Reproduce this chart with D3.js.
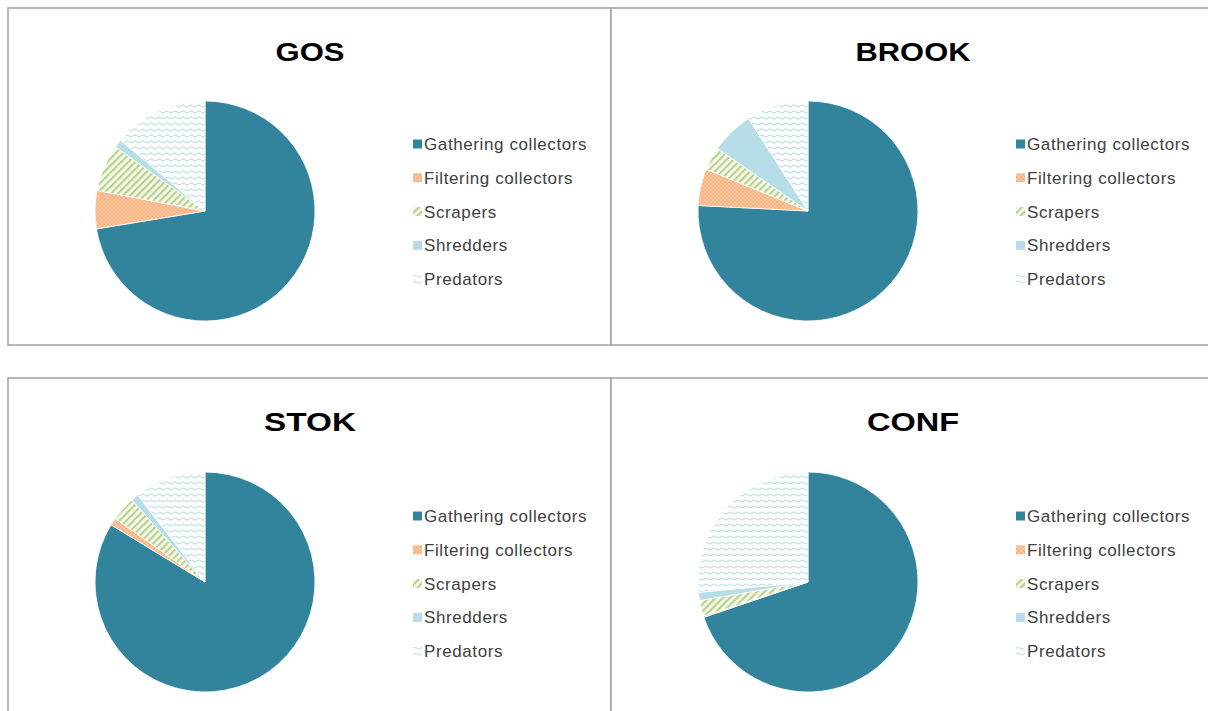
<!DOCTYPE html>
<html>
<head>
<meta charset="UTF-8">
<script src="https://cdn.jsdelivr.net/npm/d3@7"></script>
<style>
  body { margin: 0; background: #fff; }
  .title { font-family: "Liberation Sans", Arial, sans-serif; font-weight: bold; fill: #000; }
  .legend text { font-family: "Liberation Sans", Arial, sans-serif; font-size: 17px; fill: #404040; letter-spacing: 0.6px; }
</style>
</head>
<body>
<div id="chart"></div>
<script>
// feeding groups (legend order, also slice order clockwise from 12 o'clock)
var groups = ["Gathering collectors", "Filtering collectors", "Scrapers", "Shredders", "Predators"];
var sites = ["GOS", "BROOK", "STOK", "CONF"];

// percentages
var gos   = [72.4, 5.6, 6.9, 1.2, 13.9];
var brook = [75.8, 5.4, 3.4, 6.3, 9.1];
var stok  = [83.7, 1.1, 3.6, 1.1, 10.5];
var conf  = [69.8, 0.2, 2.3, 1.2, 26.5];
var values = [gos, brook, stok, conf];

var width = 1208, height = 711;

var svg = d3.select("#chart").append("svg")
    .attr("width", width)
    .attr("height", height);

// fill patterns like the excel chart
var defs = svg.append("defs");

var pDots = defs.append("pattern").attr("id", "p-filter")
    .attr("patternUnits", "userSpaceOnUse").attr("width", 4).attr("height", 4);
pDots.append("rect").attr("width", 4).attr("height", 4).attr("fill", "#f7b583");
pDots.append("circle").attr("cx", 1).attr("cy", 1).attr("r", 0.7).attr("fill", "#fde6d3");
pDots.append("circle").attr("cx", 3).attr("cy", 3).attr("r", 0.7).attr("fill", "#fde6d3");

var pStripe = defs.append("pattern").attr("id", "p-scrap")
    .attr("patternUnits", "userSpaceOnUse").attr("width", 5).attr("height", 5)
    .attr("patternTransform", "rotate(45)");
pStripe.append("rect").attr("width", 5).attr("height", 5).attr("fill", "#f6f9ee");
pStripe.append("rect").attr("width", 2.2).attr("height", 5).attr("fill", "#b9d18a");

var pWave = defs.append("pattern").attr("id", "p-pred")
    .attr("patternUnits", "userSpaceOnUse").attr("width", 8).attr("height", 6);
pWave.append("rect").attr("width", 8).attr("height", 6).attr("fill", "#fff");
pWave.append("path").attr("d", "M0 3 Q2 0.8 4 3 T8 3")
    .attr("fill", "none").attr("stroke", "#9ccfdd").attr("stroke-width", 0.8);

var fills = ["#31849b", "url(#p-filter)", "url(#p-scrap)", "#b7dde8", "url(#p-pred)"];

// panel layout
var panels = [
    { x: 8, y: 8, h: 337 },
    { x: 611, y: 8, h: 337 },
    { x: 8, y: 378, h: 345 },
    { x: 611, y: 378, h: 345 }
];
var panelW = 603;

var pie = d3.pie().sort(null).value(function (d) { return d; });
var arc = d3.arc().innerRadius(0).outerRadius(110);

panels.forEach(function (p, i) {
    var g = svg.append("g").attr("transform", "translate(" + p.x + "," + p.y + ")");

    g.append("rect")
        .attr("width", panelW).attr("height", p.h)
        .attr("fill", "#fff")
        .attr("stroke", "#a0a0a0").attr("stroke-width", 1.5);

    g.append("text").attr("class", "title")
        .attr("x", 302).attr("y", 53)
        .attr("text-anchor", "middle")
        .attr("font-size", 25)
        .attr("textLength", sites[i].length * 23)
        .attr("lengthAdjust", "spacingAndGlyphs")
        .text(sites[i]);

    var pg = g.append("g").attr("transform", "translate(197," + (i < 2 ? 203 : 204) + ")");
    pg.selectAll("path")
        .data(pie(values[i]))
        .enter().append("path")
        .attr("d", arc)
        .attr("fill", function (d, j) { return fills[j]; })
        .attr("stroke", "#fff").attr("stroke-width", 0.8);

    var lg = g.append("g").attr("class", "legend")
        .attr("transform", "translate(405," + (i < 2 ? 136 : 138) + ")");
    var item = lg.selectAll("g")
        .data(groups)
        .enter().append("g")
        .attr("transform", function (d, j) { return "translate(0," + (j * 33.8) + ")"; });
    item.append("rect")
        .attr("x", 0).attr("y", -4.5)
        .attr("width", 9).attr("height", 9)
        .attr("fill", function (d, j) { return fills[j]; });
    item.append("text")
        .attr("x", 11).attr("y", 6)
        .text(function (d) { return d; });
});
</script>
</body>
</html>
